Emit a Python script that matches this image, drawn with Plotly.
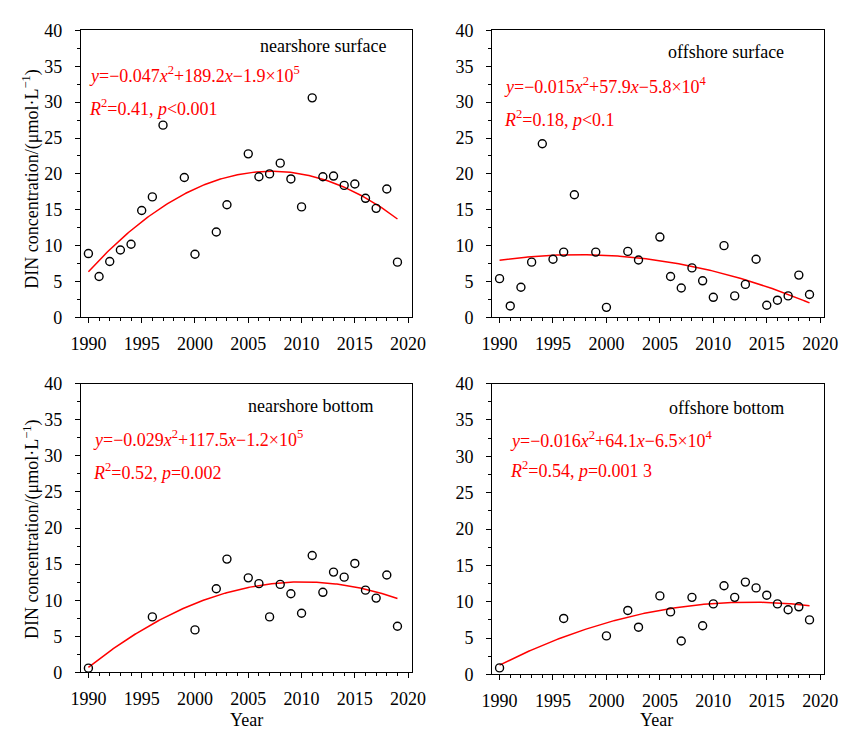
import numpy as np
import plotly.graph_objects as go

# Annual DIN concentration (μmol·L⁻¹) at four station groups
ns_surf_year = [1990, 1991, 1992, 1993, 1994, 1995, 1996, 1997, 1999, 2000, 2002, 2003, 2005, 2006,
                2007, 2008, 2009, 2010, 2011, 2012, 2013, 2014, 2015, 2016, 2017, 2018, 2019]
ns_surf_din = [8.9, 5.7, 7.8, 9.4, 10.2, 14.9, 16.8, 26.8, 19.5, 8.8, 11.9, 15.7, 22.8, 19.6,
               20.0, 21.5, 19.3, 15.4, 30.6, 19.6, 19.7, 18.4, 18.6, 16.6, 15.2, 17.9, 7.7]

os_surf_year = [1990, 1991, 1992, 1993, 1994, 1995, 1996, 1997, 1999, 2000, 2002, 2003, 2005, 2006,
                2007, 2008, 2009, 2010, 2011, 2012, 2013, 2014, 2015, 2016, 2017, 2018, 2019]
os_surf_din = [5.4, 1.6, 4.2, 7.7, 24.2, 8.1, 9.1, 17.1, 9.1, 1.4, 9.2, 8.0, 11.2, 5.7,
               4.1, 6.9, 5.1, 2.8, 10.0, 3.0, 4.6, 8.1, 1.7, 2.4, 3.0, 5.9, 3.2]

ns_bot_year = [1990, 1996, 2000, 2002, 2003, 2005, 2006, 2007, 2008, 2009, 2010, 2011, 2012, 2013,
               2014, 2015, 2016, 2017, 2018, 2019]
ns_bot_din = [0.6, 7.7, 5.9, 11.6, 15.7, 13.1, 12.3, 7.7, 12.2, 10.9, 8.2, 16.2, 11.1, 13.9,
              13.2, 15.1, 11.4, 10.3, 13.5, 6.4]

os_bot_year = [1990, 1996, 2000, 2002, 2003, 2005, 2006, 2007, 2008, 2009, 2010, 2011, 2012, 2013,
               2014, 2015, 2016, 2017, 2018, 2019]
os_bot_din = [0.9, 7.7, 5.3, 8.8, 6.5, 10.8, 8.6, 4.6, 10.6, 6.7, 9.7, 12.2, 10.6, 12.7,
              11.9, 10.9, 9.7, 8.9, 9.3, 7.5]

panel_names = ["nearshore surface", "offshore surface", "nearshore bottom", "offshore bottom"]
fit_eqs = [
    "<i>y</i>=−0.047<i>x</i><sup>2</sup>+189.2<i>x</i>−1.9×10<sup>5</sup>",
    "<i>y</i>=−0.015<i>x</i><sup>2</sup>+57.9<i>x</i>−5.8×10<sup>4</sup>",
    "<i>y</i>=−0.029<i>x</i><sup>2</sup>+117.5<i>x</i>−1.2×10<sup>5</sup>",
    "<i>y</i>=−0.016<i>x</i><sup>2</sup>+64.1<i>x</i>−6.5×10<sup>4</sup>",
]
fit_stats = [
    "<i>R</i><sup>2</sup>=0.41, <i>p</i><0.001",
    "<i>R</i><sup>2</sup>=0.18, <i>p</i><0.1",
    "<i>R</i><sup>2</sup>=0.52, <i>p</i>=0.002",
    "<i>R</i><sup>2</sup>=0.54, <i>p</i>=0.001 3",
]

series = [(ns_surf_year, ns_surf_din), (os_surf_year, os_surf_din),
          (ns_bot_year, ns_bot_din), (os_bot_year, os_bot_din)]

W, H = 855, 736
FONT = "Liberation Serif"
FS = 18

# panel boxes in pixels: (left, right, top, bottom)
boxes = [(73, 414, 21, 316), (496, 838, 21, 316), (73, 414, 384, 681), (496, 838, 384, 683)]
# label anchors in pixels: name (right edge, y), equation (left, y), stats (left, y)
name_pos = [(389, 37), (798, 43), (376, 407), (798, 409)]
eq_pos = [(79, 66), (506, 78), (83, 440), (512, 441)]
st_pos = [(79, 100), (506, 112), (83, 474), (512, 472)]

fig = go.Figure()
layout = dict(width=W, height=H, margin=dict(l=0, r=0, t=0, b=0),
              paper_bgcolor="white", plot_bgcolor="white", showlegend=False,
              font=dict(family=FONT, size=FS, color="black"))
annotations = []

for i, ((yrs, vals), (l, r, t, b)) in enumerate(zip(series, boxes)):
    n = "" if i == 0 else str(i + 1)
    xa, ya = "x" + n, "y" + n
    yrs_a = np.array(yrs, dtype=float)
    vals_a = np.array(vals, dtype=float)
    # quadratic trend fitted to the annual values
    coef = np.polyfit(yrs_a - 2005, vals_a, 2)
    xs = np.linspace(min(yrs), max(yrs), 200)
    fig.add_trace(go.Scatter(x=xs, y=np.polyval(coef, xs - 2005), mode="lines",
                             line=dict(color="#ff0000", width=1.5),
                             xaxis=xa, yaxis=ya, hoverinfo="skip"))
    fig.add_trace(go.Scatter(x=yrs, y=vals, mode="markers",
                             marker=dict(symbol="circle-open", size=8, color="black",
                                         line=dict(width=1.4, color="black")),
                             xaxis=xa, yaxis=ya))
    axis_common = dict(showline=True, linecolor="black", linewidth=1, mirror=True,
                       showgrid=False, zeroline=False, ticks="outside", ticklen=5,
                       tickwidth=1, tickcolor="black",
                       tickfont=dict(family=FONT, size=FS, color="black"))
    layout["xaxis" + n] = dict(axis_common, domain=[l / W, r / W], range=[1989.3, 2020.4],
                               tickmode="array", tickvals=[1990, 1995, 2000, 2005, 2010, 2015, 2020],
                               minor=dict(dtick=1, tick0=1990, ticks="outside", ticklen=3,
                                          tickcolor="black", showgrid=False),
                               anchor=ya, ticklabelstandoff=5)
    layout["yaxis" + n] = dict(axis_common, domain=[1 - b / H, 1 - t / H], range=[0, 40],
                               tickmode="array", tickvals=[0, 5, 10, 15, 20, 25, 30, 35, 40],
                               minor=dict(dtick=2.5, tick0=0, ticks="outside", ticklen=3,
                                          tickcolor="black", showgrid=False),
                               anchor=xa, ticklabelstandoff=9)
    nx, ny = name_pos[i]
    annotations.append(dict(text=panel_names[i], x=nx / W, y=1 - ny / H, xref="paper", yref="paper",
                            xanchor="right", yanchor="middle", showarrow=False,
                            font=dict(family=FONT, size=FS, color="black")))
    ex, ey = eq_pos[i]
    annotations.append(dict(text=fit_eqs[i], x=ex / W, y=1 - ey / H, xref="paper", yref="paper",
                            xanchor="left", yanchor="middle", showarrow=False,
                            font=dict(family=FONT, size=FS, color="#ff0000")))
    sx, sy = st_pos[i]
    annotations.append(dict(text=fit_stats[i], x=sx / W, y=1 - sy / H, xref="paper", yref="paper",
                            xanchor="left", yanchor="middle", showarrow=False,
                            font=dict(family=FONT, size=FS, color="#ff0000")))

ytitle = "DIN concentration/(μmol·L<sup>−1</sup>)"
for cy in (173, 533):
    annotations.append(dict(text=ytitle, x=22 / W, y=1 - cy / H, xref="paper", yref="paper",
                            xanchor="center", yanchor="middle", textangle=-90, showarrow=False,
                            font=dict(family=FONT, size=FS, color="black")))
for cx in (243, 665):
    annotations.append(dict(text="Year", x=cx / W, y=1 - 730 / H, xref="paper", yref="paper",
                            xanchor="center", yanchor="middle", showarrow=False,
                            font=dict(family=FONT, size=FS, color="black")))

layout["annotations"] = annotations
fig.update_layout(**layout)
fig.write_html("out.html")
